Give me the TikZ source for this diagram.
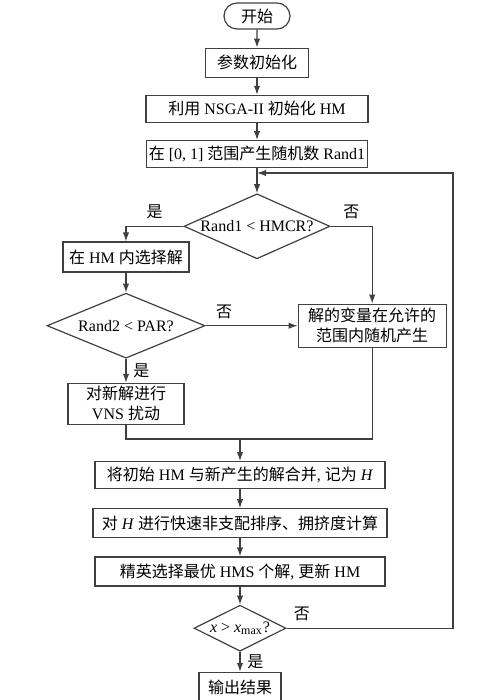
\documentclass[tikz,border=0pt]{standalone}
\usepackage{fontspec}
\setmainfont{Liberation Serif}
\newfontfamily\cjk{Noto Sans CJK SC}
\usetikzlibrary{positioning}
\usetikzlibrary{shapes.geometric,shapes.misc,arrows.meta}
\newcommand{\zh}[1]{{\cjk #1}}

\begin{document}
\begin{tikzpicture}[x=0.5pt,y=-0.5pt,
                    font=\fontsize{8}{10}\selectfont,
                    startstop/.style={rounded rectangle,
                                        draw=black!75,
                                        line width=0.6pt,
                                        minimum width=35pt,
                                        minimum height=13pt,
                                        inner sep=1pt
                                      },
                    process/.style={rectangle,
                                        draw=black!75,
                                        line width=0.6pt,
                                        inner xsep=1pt,
                                        inner ysep=1.5pt,
                                        align=center
                                      },
                    decision/.style={diamond,
                                        draw=black!75,
                                        line width=0.6pt,
                                        inner sep=0pt
                                      },
                    flowline/.style={
                                    line width=0.6pt,
                                    draw=black!75,
                                    -{Latex[length=4.5pt,width=3.2pt]}
                                    },
                    joinline/.style={
                                    line width=0.6pt,
                                    draw=black!75
                                    }
                     ]
  \useasboundingbox (0,0) rectangle (500,700);
  \node[startstop] (start) at (257,16) {\zh{开始}};
  \node[process,below=9pt of start,minimum width=51.5pt,minimum height=14.5pt] (init) {\zh{参数初始化}};
  \node[process,below=8.5pt of init,minimum width=111pt,minimum height=13.5pt] (nsga) {\zh{利用} NSGA-II \zh{初始化} HM};
  \node[process,below=8.5pt of nsga,minimum width=110.5pt,minimum height=13.5pt] (rand1) {\zh{在} [0, 1] \zh{范围产生随机数} Rand1};
  \node[decision,below=12.5pt of rand1,minimum width=73pt,minimum height=32.5pt,
        label=center:{Rand1 < HMCR?}] (d1) {};
  \node[process,minimum width=63pt,minimum height=15pt] (sel) at (126,257) {\zh{在} HM \zh{内选择解}};
  \node[decision,below=10pt of sel,minimum width=79pt,minimum height=32.5pt,
        label=center:{Rand2 < PAR?}] (d2) {};
  \node[process,right=46pt of d2,minimum width=74pt,minimum height=21.5pt] (rnd) {\zh{解的变量在允许的}\\\zh{范围内随机产生}};
  \node[process,below=12pt of d2,minimum width=58pt,minimum height=19pt] (vns) {\zh{对新解进行}\\VNS \zh{扰动}};
  \coordinate (merge) at (240,439);
  \node[process,below=11pt of merge,minimum width=145pt,minimum height=13.5pt] (comb) {\zh{将初始} HM \zh{与新产生的解合并}, \zh{记为} \textit{H}};
  \node[process,below=9.5pt of comb,minimum width=147pt,minimum height=14.5pt] (sort) {\zh{对} \textit{H} \zh{进行快速非支配排序、拥挤度计算}};
  \node[process,below=9pt of sort,minimum width=145pt,minimum height=14.5pt] (elite) {\zh{精英选择最优} HMS \zh{个解}, \zh{更新} HM};
  \node[decision,below=9pt of elite,minimum width=46pt,minimum height=23pt,
        label=center:{\textit{x} > \textit{x}\textsubscript{max}?}] (d3) {};
  \node[process,below=10pt of d3,minimum width=41pt,minimum height=15pt] (out) {\zh{输出结果}};
  \coordinate (back) at (453,173);
  \draw [flowline] (start) -- (init);
  \draw [flowline] (init) -- (nsga);
  \draw [flowline] (nsga) -- (rand1);
  \draw [flowline] (rand1) -- (d1);
  \draw [flowline] (d1.west) -| node[above,pos=0.25] {\zh{是}} (sel.north);
  \draw [flowline] (d1.east) -| node[above,pos=0.25] {\zh{否}} (rnd.north);
  \draw [flowline] (sel) -- (d2);
  \draw [flowline] (d2.east) -- node[above,pos=0.2] {\zh{否}} (rnd.west);
  \draw [flowline] (d2.south) -- node[right] {\zh{是}} (vns.north);
  \draw [joinline] (vns.south) |- (merge) -| (rnd.south);
  \draw [flowline] (merge) -- (comb);
  \draw [flowline] (comb) -- (sort);
  \draw [flowline] (sort) -- (elite);
  \draw [flowline] (elite) -- (d3);
  \draw [flowline] (d3.south) -- node[right] {\zh{是}} (out.north);
  \draw [flowline] (d3.east) node[above right] {\zh{否}} -| (back) -- (back -| rand1.south);

  \end{tikzpicture}
\end{document}
